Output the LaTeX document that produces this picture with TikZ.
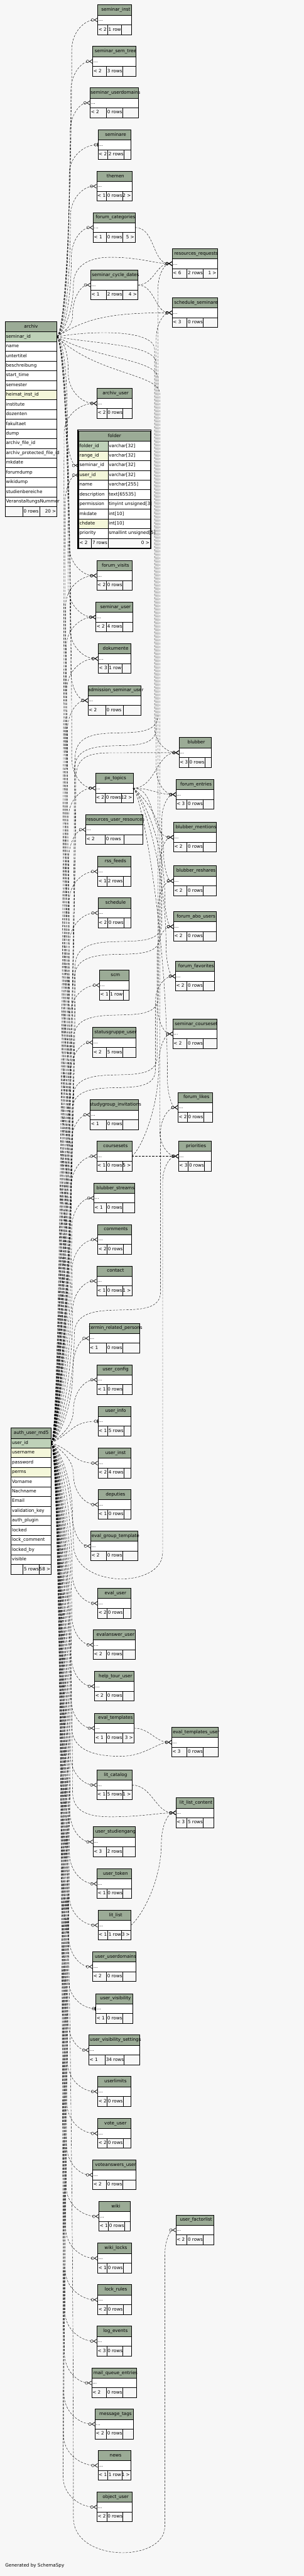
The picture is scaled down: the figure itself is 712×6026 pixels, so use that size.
\documentclass[tikz,border=0pt]{standalone}
\usepackage{fontspec}
\setmainfont{DejaVu Sans}
\usetikzlibrary{arrows.meta,calc}

\definecolor{bgcol}{HTML}{F7F7F7}
\definecolor{hdrcol}{HTML}{9BAB96}
\definecolor{pkcol}{HTML}{BED1B8}
\definecolor{idxcol}{HTML}{F4F7DA}

\newcommand{\tfont}{\fontsize{10.6}{12}\selectfont}

%% one cell: [style]{name}{at}{width}{l/c/r}{text}
\newcommand{\dbcell}[6][tbody]{%
  \pgfmathsetmacro\cellw{#4-4}%
  \node[#1,anchor=north west] (#2) at (#3) {\makebox[\cellw pt][#5]{#6}};}

%% collapsed table: {name}{left}{right}{top}{split1}{split2}{title}{parents}{rows}
\newcommand{\dbtable}[9]{%
  \dbcell[thead]{#1}{#2,-#4}{#3-#2}{c}{\hspace*{6pt}#7}%
  \dbcell{#1-b}{#1.south west}{#3-#2}{l}{...}%
  \dbcell[tfoot]{#1-f1}{#1-b.south west}{#5-#2}{l}{#8}%
  \dbcell[tfoot]{#1-f2}{#1-f1.north east}{#6-#5}{l}{#9}%
  \dbcell[tfoot]{#1-f3}{#1-f2.north east}{#3-#6}{r}{}}

%% relationship through the left bundle: [style]{bundle x}{parent}{child}
\newcommand{\fklink}[4][fkmany]{%
  \draw[#1] let \p1=(#3), \p2=(#4),
      \n1={ifthenelse(\y2>\y1,1,-1)}, \n2={max(abs((\y2)-(\y1))-70,0)} in
    (\p1) .. controls ({\x1+20},{\y1+(\n1)*14}) and (#2,{\y2-(\n1)*(70+0.5*\n2)})
      .. (#2,{\y2-(\n1)*70})
      .. controls (#2,{\y2-(\n1)*28}) and ({0.5*#2+0.5*\x2},\y2) .. (\p2);}

%% relationship crossing to the right bundle: [style]{left x}{cross y}{right x}{parent}{child}
\newcommand{\fkcross}[6][fkmany]{%
  \draw[#1] let \p1=(#5), \p2=(#6), \n3={-#3},
      \n1={ifthenelse(\n3>\y1,1,-1)}, \n2={ifthenelse(\y2>\n3,1,-1)},
      \n4={max(abs((\n3)-(\y1))-60,0)} in
    (\p1) .. controls ({\x1+20},{\y1+(\n1)*14}) and (#2,{\n3-(\n1)*(60+0.5*\n4)})
      .. (#2,{\n3-(\n1)*60})
      .. controls (#2,{\n3+(\n1)*45}) and (#4,{\n3-(\n2)*45}) .. (#4,{\n3+(\n2)*40})
      -- (#4,{\y2-(\n2)*60})
      .. controls (#4,{\y2-(\n2)*24}) and ({0.5*#4+0.5*\x2},\y2) .. (\p2);}

%% relationship running right, then down the right bundle: [style]{right x}{run y}{parent}{child}
\newcommand{\fkright}[5][fkmany]{%
  \draw[#1] let \p1=(#4), \p2=(#5), \n3={-#3} in
    (\p1) .. controls ({\x1+90},\n3) and (#2,\n3) .. (#2,{\n3-45})
      -- (#2,{\y2+60})
      .. controls (#2,{\y2+24}) and ({0.5*#2+0.5*\x2},\y2) .. (\p2);}

\begin{document}
\begin{tikzpicture}[x=1pt,y=1pt,
  tcell/.style={draw=black,line width=0.8pt,inner xsep=2pt,inner ysep=0pt,outer sep=0pt,
                text height=8pt,text depth=2.5pt,font=\tfont},
  thead/.style={tcell,fill=hdrcol,minimum height=24pt},
  tbody/.style={tcell,fill=white,minimum height=22.7pt},
  tfoot/.style={tcell,fill=bgcol,minimum height=23pt},
  tnum/.style={anchor=east,inner xsep=2pt,inner ysep=0pt,text height=8pt,
               text depth=2.5pt,font=\tfont},
  fkmany/.style={line width=0.6pt,dash pattern=on 5pt off 3pt,
    -{Circle[open,length=7pt,width=7pt]Straight Barb[reversed,length=7pt,width=9pt,line width=1pt]}},
  fkone/.style={line width=0.6pt,dash pattern=on 5pt off 3pt,
    -{Circle[open,length=7pt,width=7pt]Bar[width=9pt,line width=2pt]}}
]
\path[use as bounding box] (0,0) rectangle (712,-6026);
\fill[bgcol] (0,0) rectangle (712,-6026);

%% archiv
\dbcell[thead]{archiv}{12,-752.3}{121.3}{c}{archiv}
\dbcell[tbody,fill=pkcol]{archiv-r1}{archiv.south west}{121.3}{l}{seminar\_id}
\dbcell{archiv-r2}{archiv-r1.south west}{121.3}{l}{name}
\dbcell{archiv-r3}{archiv-r2.south west}{121.3}{l}{untertitel}
\dbcell{archiv-r4}{archiv-r3.south west}{121.3}{l}{beschreibung}
\dbcell{archiv-r5}{archiv-r4.south west}{121.3}{l}{start\_time}
\dbcell{archiv-r6}{archiv-r5.south west}{121.3}{l}{semester}
\dbcell[tbody,fill=idxcol]{archiv-r7}{archiv-r6.south west}{121.3}{l}{heimat\_inst\_id}
\dbcell{archiv-r8}{archiv-r7.south west}{121.3}{l}{institute}
\dbcell{archiv-r9}{archiv-r8.south west}{121.3}{l}{dozenten}
\dbcell{archiv-r10}{archiv-r9.south west}{121.3}{l}{fakultaet}
\dbcell{archiv-r11}{archiv-r10.south west}{121.3}{l}{dump}
\dbcell{archiv-r12}{archiv-r11.south west}{121.3}{l}{archiv\_file\_id}
\dbcell{archiv-r13}{archiv-r12.south west}{121.3}{l}{archiv\_protected\_file\_id}
\dbcell{archiv-r14}{archiv-r13.south west}{121.3}{l}{mkdate}
\dbcell{archiv-r15}{archiv-r14.south west}{121.3}{l}{forumdump}
\dbcell{archiv-r16}{archiv-r15.south west}{121.3}{l}{wikidump}
\dbcell{archiv-r17}{archiv-r16.south west}{121.3}{l}{studienbereiche}
\dbcell{archiv-r18}{archiv-r17.south west}{121.3}{l}{VeranstaltungsNummer}
\dbcell[tfoot]{archiv-f1}{archiv-r18.south west}{41.3}{l}{}
\dbcell[tfoot]{archiv-f2}{archiv-f1.north east}{40.4}{l}{0 rows}
\dbcell[tfoot]{archiv-f3}{archiv-f2.north east}{39.6}{r}{20 >}

%% folder
\draw[line width=1.8pt] (182.4,-1005.9) rectangle (353.4,-1283.3);
\dbcell[thead]{folder}{184.3,-1008}{167.7}{c}{folder}
\dbcell[tbody,fill=pkcol]{folder-r1}{folder.south west}{68.7}{l}{folder\_id}
\dbcell[tbody,fill=idxcol]{folder-r2}{folder-r1.south west}{68.7}{l}{range\_id}
\dbcell{folder-r3}{folder-r2.south west}{68.7}{l}{seminar\_id}
\dbcell[tbody,fill=idxcol]{folder-r4}{folder-r3.south west}{68.7}{l}{user\_id}
\dbcell{folder-r5}{folder-r4.south west}{68.7}{l}{name}
\dbcell{folder-r6}{folder-r5.south west}{68.7}{l}{description}
\dbcell{folder-r7}{folder-r6.south west}{68.7}{l}{permission}
\dbcell{folder-r8}{folder-r7.south west}{68.7}{l}{mkdate}
\dbcell[tbody,fill=idxcol]{folder-r9}{folder-r8.south west}{68.7}{l}{chdate}
\dbcell{folder-r10}{folder-r9.south west}{68.7}{l}{priority}
\dbcell{folder-t1}{folder-r1.north east}{99}{l}{varchar[32]}
\dbcell{folder-t2}{folder-r2.north east}{99}{l}{varchar[32]}
\dbcell{folder-t3}{folder-r3.north east}{99}{l}{varchar[32]}
\dbcell{folder-t4}{folder-r4.north east}{99}{l}{varchar[32]}
\dbcell{folder-t5}{folder-r5.north east}{99}{l}{varchar[255]}
\dbcell{folder-t6}{folder-r6.north east}{99}{l}{text[65535]}
\dbcell{folder-t7}{folder-r7.north east}{99}{l}{tinyint unsigned[3]}
\dbcell{folder-t8}{folder-r8.north east}{99}{l}{int[10]}
\dbcell{folder-t9}{folder-r9.north east}{99}{l}{int[10]}
\dbcell{folder-t10}{folder-r10.north east}{99}{l}{smallint unsigned[5]}
\dbcell[tfoot]{folder-f1}{folder-r10.south west}{30}{l}{< 2}
\dbcell[tfoot]{folder-f2}{folder-f1.north east}{38.7}{l}{7 rows}
\dbcell[tfoot]{folder-f3}{folder-f2.north east}{99}{r}{0 >}

%% auth_user_md5
\dbcell[thead]{auth}{26,-3340.3}{94}{c}{auth\_user\_md5}
\dbcell[tbody,fill=pkcol]{auth-r1}{auth.south west}{94}{l}{user\_id}
\dbcell[tbody,fill=idxcol]{auth-r2}{auth-r1.south west}{94}{l}{username}
\dbcell{auth-r3}{auth-r2.south west}{94}{l}{password}
\dbcell[tbody,fill=idxcol]{auth-r4}{auth-r3.south west}{94}{l}{perms}
\dbcell{auth-r5}{auth-r4.south west}{94}{l}{Vorname}
\dbcell{auth-r6}{auth-r5.south west}{94}{l}{Nachname}
\dbcell{auth-r7}{auth-r6.south west}{94}{l}{Email}
\dbcell{auth-r8}{auth-r7.south west}{94}{l}{validation\_key}
\dbcell{auth-r9}{auth-r8.south west}{94}{l}{auth\_plugin}
\dbcell{auth-r10}{auth-r9.south west}{94}{l}{locked}
\dbcell{auth-r11}{auth-r10.south west}{94}{l}{lock\_comment}
\dbcell{auth-r12}{auth-r11.south west}{94}{l}{locked\_by}
\dbcell{auth-r13}{auth-r12.south west}{94}{l}{visible}
\dbcell[tfoot]{auth-f1}{auth-r13.south west}{28}{l}{}
\dbcell[tfoot]{auth-f2}{auth-f1.north east}{38}{l}{5 rows}
\dbcell[tfoot]{auth-f3}{auth-f2.north east}{28}{r}{58 >}

%% collapsed tables, middle column and right column
\dbtable{seminst}{228.7}{308}{11.3}{252}{285}{seminar\_inst}{< 2}{1 row}
\dbtable{semsemtree}{217}{318.3}{108.3}{249.3}{287.3}{seminar\_sem\_tree}{< 2}{3 rows}
\dbtable{semuserdom}{211}{324}{205.3}{249.3}{287.3}{seminar\_userdomains}{< 2}{0 rows}
\dbtable{seminare}{229.3}{306.3}{303.3}{252.3}{290.3}{seminare}{< 2}{2 rows}
\dbtable{themen}{226.3}{308.7}{400.3}{249.3}{287.3}{themen}{< 1}{0 rows}
\dbtable{forumcat}{218.3}{316.7}{497}{249.3}{287.3}{forum\_categories}{< 1}{0 rows}
\dbtable{resreq}{403.3}{509}{581.3}{438}{476}{resources\_requests}{< 6}{2 rows}
\dbtable{semcycle}{212.3}{322.7}{631.3}{249.3}{287.3}{seminar\_cycle\_dates}{< 1}{2 rows}
\dbtable{schedsem}{403.3}{509}{696.3}{438}{476}{schedule\_seminare}{< 3}{0 rows}
\dbtable{archivuser}{227}{308.7}{908.3}{250}{288}{archiv\_user}{< 2}{0 rows}
\dbtable{forumvisits}{226.3}{308.7}{1311.3}{249.3}{287.3}{forum\_visits}{< 2}{0 rows}
\dbtable{semuser}{224.3}{311}{1408.3}{249.3}{287.3}{seminar\_user}{< 2}{4 rows}
\dbtable{dokumente}{230}{305.7}{1505.3}{253}{286}{dokumente}{< 3}{1 row}
\dbtable{admsemuser}{206}{330}{1603.3}{247.7}{288.7}{admission\_seminar\_user}{< 2}{0 rows}
\dbtable{blubber}{419.3}{494.3}{1725.3}{441.7}{479.7}{blubber}{< 3}{0 rows}
\dbtable{pxtopics}{223.3}{311.7}{1808.3}{246.3}{284.3}{px\_topics}{< 2}{0 rows}
\dbtable{forumentries}{412}{500.3}{1823.3}{438}{476}{forum\_entries}{< 3}{0 rows}
\dbtable{resuserres}{200.7}{334.3}{1905.3}{246.3}{290.3}{resources\_user\_resources}{< 2}{0 rows}
\dbtable{blubbermen}{406.3}{506}{1923.3}{438}{476}{blubber\_mentions}{< 2}{0 rows}
\dbtable{rssfeeds}{228.7}{306.3}{2003.3}{250.7}{289}{rss\_feeds}{< 1}{2 rows}
\dbtable{blubberresh}{406.3}{506}{2025.3}{438}{476}{blubber\_reshares}{< 2}{0 rows}
\dbtable{schedule}{229.3}{306.3}{2100.3}{252.3}{290.3}{schedule}{< 2}{0 rows}
\dbtable{forumabo}{406.3}{506}{2132.3}{438}{476}{forum\_abo\_users}{< 2}{0 rows}
\dbtable{forumfav}{410.7}{502.3}{2248.3}{438}{476}{forum\_favorites}{< 2}{0 rows}
\dbtable{scm}{233}{302}{2269.3}{256}{289}{scm}{< 1}{1 row}
\dbtable{semcourseset}{404.7}{508.3}{2383.3}{438}{476}{seminar\_courseset}{< 2}{0 rows}
\dbtable{statusgruppe}{217}{318.3}{2403.3}{249.3}{287.3}{statusgruppe\_user}{< 2}{5 rows}
\dbtable{forumlikes}{416.7}{497.3}{2555.3}{438.7}{476.7}{forum\_likes}{< 2}{0 rows}
\dbtable{studyinv}{211}{324}{2572.3}{249.3}{287.3}{studygroup\_invitations}{< 1}{0 rows}
\dbtable{coursesets}{226.3}{308.7}{2669.3}{249.3}{287.3}{coursesets}{< 1}{0 rows}
\dbtable{priorities}{418}{494.3}{2669.3}{441}{479}{priorities}{< 3}{0 rows}
\dbtable{blubberstreams}{219.7}{315.3}{2767.3}{249.3}{287.3}{blubber\_streams}{< 1}{0 rows}
\dbtable{comments}{228.7}{308}{2864.3}{250.7}{288.7}{comments}{< 2}{0 rows}
\dbtable{contact}{226.3}{308.7}{2961.3}{249.3}{287.3}{contact}{< 1}{0 rows}
\dbtable{terminrel}{208.7}{327}{3095.3}{249.3}{288}{termin\_related\_persons}{< 1}{0 rows}
\dbtable{userconfig}{227}{308.7}{3192.3}{250}{288}{user\_config}{< 1}{0 rows}
\dbtable{userinfo}{229.3}{306.3}{3289.3}{252.3}{290.3}{user\_info}{< 1}{5 rows}
\dbtable{userinst}{229.3}{306.3}{3387.3}{252.3}{290.3}{user\_inst}{< 2}{4 rows}
\dbtable{deputies}{229.3}{305.7}{3484.3}{252.3}{290.3}{deputies}{< 1}{0 rows}
\dbtable{evalgrouptpl}{212.3}{322.7}{3581.3}{249.3}{287.3}{eval\_group\_template}{< 2}{0 rows}
\dbtable{evaluser}{228.7}{306.3}{3715.3}{250.7}{288.7}{eval\_user}{< 2}{0 rows}
\dbtable{evalanswer}{218.3}{316.7}{3812.3}{249.3}{287.3}{evalanswer\_user}{< 2}{0 rows}
\dbtable{helptour}{221.3}{313.7}{3909.3}{249.3}{287.3}{help\_tour\_user}{< 2}{0 rows}
\dbtable{evaltpl}{221.3}{313.7}{4007.3}{249.3}{287.3}{eval\_templates}{< 1}{0 rows}
\dbtable{evaltpluser}{402}{511.3}{4040.3}{438}{476}{eval\_templates\_user}{< 3}{0 rows}
\dbtable{litcatalog}{226.3}{308.7}{4140.3}{249.3}{287.3}{lit\_catalog}{< 1}{5 rows}
\dbtable{litlistcontent}{412}{500.3}{4205.3}{438}{476}{lit\_list\_content}{< 3}{5 rows}
\dbtable{userstudiengang}{217.7}{317.3}{4273.3}{249.3}{287.3}{user\_studiengang}{< 3}{2 rows}
\dbtable{usertoken}{227}{308}{4371.3}{250}{288}{user\_token}{< 1}{0 rows}
\dbtable{litlist}{229.3}{306.3}{4468.3}{252.3}{285}{lit\_list}{< 1}{1 row}
\dbtable{useruserdom}{217}{318.3}{4565.3}{249.3}{287.3}{user\_userdomains}{< 2}{0 rows}
\dbtable{uservis}{224.3}{311}{4663.3}{249.3}{287.3}{user\_visibility}{< 1}{0 rows}
\dbtable{uservisset}{208}{327}{4760.3}{246.3}{290.3}{user\_visibility\_settings}{< 1}{34 rows}
\dbtable{userlimits}{228.7}{306.3}{4857.3}{250.7}{288.7}{userlimits}{< 2}{0 rows}
\dbtable{voteuser}{228.7}{306.3}{4955.3}{250.7}{288.7}{vote\_user}{< 2}{0 rows}
\dbtable{voteanswers}{217}{318.3}{5052.3}{249.3}{287.3}{voteanswers\_user}{< 2}{0 rows}
\dbtable{wiki}{231.7}{305}{5149.3}{253.7}{291.7}{wiki}{< 1}{0 rows}
\dbtable{userfactor}{412}{500.3}{5181.3}{438}{476}{user\_factorlist}{< 2}{0 rows}
\dbtable{wikilocks}{228.7}{308}{5247.3}{250.7}{288.7}{wiki\_locks}{< 1}{0 rows}
\dbtable{lockrules}{228.7}{308}{5344.3}{250.7}{288.7}{lock\_rules}{< 2}{0 rows}
\dbtable{logevents}{227}{308}{5441.3}{250}{288}{log\_events}{< 3}{0 rows}
\dbtable{mailqueue}{214.7}{320.3}{5539}{249.3}{287.3}{mail\_queue\_entries}{< 2}{0 rows}
\dbtable{msgtags}{222.7}{312.3}{5635.3}{249.3}{287.3}{message\_tags}{< 2}{0 rows}
\dbtable{news}{229.3}{306.3}{5732}{252.3}{285.3}{news}{< 1}{1 row}
\dbtable{objectuser}{227}{308.7}{5829.3}{250}{288}{object\_user}{< 2}{0 rows}

%% child counts
\node[tnum] (themen-k) at (themen-f3.east) {2 >};
\node[tnum] (forumcat-k) at (forumcat-f3.east) {5 >};
\node[tnum] (resreq-k) at (resreq-f3.east) {1 >};
\node[tnum] (semcycle-k) at (semcycle-f3.east) {4 >};
\node[tnum] (pxtopics-k) at (pxtopics-f3.east) {12 >};
\node[tnum] (coursesets-k) at (coursesets-f3.east) {5 >};
\node[tnum] (contact-k) at (contact-f3.east) {1 >};
\node[tnum] (evaltpl-k) at (evaltpl-f3.east) {3 >};
\node[tnum] (litcatalog-k) at (litcatalog-f3.east) {1 >};
\node[tnum] (litlist-k) at (litlist-f3.east) {3 >};
\node[tnum] (news-k) at (news-f3.east) {1 >};

\node[anchor=west,font=\tfont,inner sep=0pt] (credit) at (12,-6001) {Generated by SchemaSpy};

%% archiv.seminar_id, upwards
\fklink{168}{archiv-r1.east}{seminst-b.west}
\fklink{166}{archiv-r1.east}{semsemtree-b.west}
\fklink{164}{archiv-r1.east}{semuserdom-b.west}
\fklink[fkone]{162}{archiv-r1.east}{seminare-b.west}
\fklink{165}{archiv-r1.east}{themen-b.west}
\fklink{167}{archiv-r1.east}{forumcat-b.west}
\fklink{170}{archiv-r1.east}{semcycle-b.west}
\draw[fkmany] (archiv-r1.east) .. controls +(20,14) and (172,-720) .. (172,-665)
  .. controls (172,-628) and (200,-604) .. (250,-602)
  .. controls (320,-600) and (365,-617) .. (resreq-b.west);
\draw[fkmany] (archiv-r1.east) .. controls +(70,45) and +(-140,0) .. (schedsem-b.west);

%% archiv.seminar_id, downwards
\fklink{160}{archiv-r1.east}{archivuser-b.west}
\fklink{158}{archiv-r1.east}{folder-r3.west}
\fklink{162}{archiv-r1.east}{forumvisits-b.west}
\fklink{160}{archiv-r1.east}{semuser-b.west}
\fklink{164}{archiv-r1.east}{dokumente-b.west}
\fklink{166}{archiv-r1.east}{admsemuser-b.west}
\fklink{168}{archiv-r1.east}{pxtopics-b.west}

%% archiv.seminar_id, down the right bundle
\fkright{362}{772}{archiv-r1.east}{blubber-b.west}
\fkright{366}{805}{archiv-r1.east}{forumentries-b.west}
\fkright{370}{840}{archiv-r1.east}{semcourseset-b.west}
\fkright{374}{875}{archiv-r1.east}{priorities-b.west}

%% auth_user_md5.user_id, upwards
\fklink{150}{auth-r1.east}{archivuser-b.west}
\fklink{152}{auth-r1.east}{folder-r4.west}
\fklink{154}{auth-r1.east}{forumvisits-b.west}
\fklink{155}{auth-r1.east}{semuser-b.west}
\fklink{157}{auth-r1.east}{dokumente-b.west}
\fklink{158}{auth-r1.east}{admsemuser-b.west}
\fklink{160}{auth-r1.east}{pxtopics-b.west}
\fklink{161}{auth-r1.east}{resuserres-b.west}
\fklink{162}{auth-r1.east}{rssfeeds-b.west}
\fklink{163}{auth-r1.east}{schedule-b.west}
\fklink{164}{auth-r1.east}{scm-b.west}
\fklink{165}{auth-r1.east}{statusgruppe-b.west}
\fklink{166}{auth-r1.east}{studyinv-b.west}
\fklink{167}{auth-r1.east}{coursesets-b.west}
\fklink{168}{auth-r1.east}{blubberstreams-b.west}
\fklink{169}{auth-r1.east}{comments-b.west}
\fklink{170}{auth-r1.east}{contact-b.west}
\fklink{171}{auth-r1.east}{terminrel-b.west}
\fklink{172}{auth-r1.east}{userconfig-b.west}
\draw[fkone] (auth-r1.east) .. controls +(50,25) and +(-60,0) .. (userinfo-b.west);
\draw[fkmany] (auth-r1.east) .. controls +(50,-15) and +(-60,0) .. (userinst-b.west);
\draw[fkmany] (auth-r1.east) .. controls +(20,14) and (178,-2200) .. (178,-1820)
  .. controls (178,-1772) and (205,-1761) .. (260,-1761) -- (blubber-b.west);

%% auth_user_md5.user_id, downwards
\fklink{172}{auth-r1.east}{deputies-b.west}
\fklink{170}{auth-r1.east}{evalgrouptpl-b.west}
\fklink{169}{auth-r1.east}{evaluser-b.west}
\fklink{168}{auth-r1.east}{evalanswer-b.west}
\fklink{167}{auth-r1.east}{helptour-b.west}
\fklink{166}{auth-r1.east}{evaltpl-b.west}
\fklink{165}{auth-r1.east}{litcatalog-b.west}
\fklink{164}{auth-r1.east}{userstudiengang-b.west}
\fklink{163}{auth-r1.east}{usertoken-b.west}
\fklink{162}{auth-r1.east}{litlist-b.west}
\fklink{161}{auth-r1.east}{useruserdom-b.west}
\fklink[fkone]{160}{auth-r1.east}{uservis-b.west}
\fklink{159}{auth-r1.east}{uservisset-b.west}
\fklink{158}{auth-r1.east}{userlimits-b.west}
\fklink{157}{auth-r1.east}{voteuser-b.west}
\fklink{156}{auth-r1.east}{voteanswers-b.west}
\fklink{155}{auth-r1.east}{wiki-b.west}
\fklink{154}{auth-r1.east}{wikilocks-b.west}
\fklink{153}{auth-r1.east}{lockrules-b.west}
\fklink{152}{auth-r1.east}{logevents-b.west}
\fklink{151}{auth-r1.east}{mailqueue-b.west}
\fklink{150}{auth-r1.east}{msgtags-b.west}
\fklink{149}{auth-r1.east}{news-b.west}
\fklink{148}{auth-r1.east}{objectuser-b.west}

%% auth_user_md5.user_id, over to the right column
\fkcross{176}{1712}{370}{auth-r1.east}{resreq-b.west}
\fkcross{174}{1742}{366}{auth-r1.east}{schedsem-b.west}
\fkcross{176}{2200}{379}{auth-r1.east}{forumentries-b.west}
\fkcross{174}{2230}{375}{auth-r1.east}{blubbermen-b.west}
\fkcross{172}{2372}{371}{auth-r1.east}{blubberresh-b.west}
\fkcross{170}{2512}{368}{auth-r1.east}{forumabo-b.west}
\fkcross{168}{2542}{364}{auth-r1.east}{forumfav-b.west}
\fkcross{174}{3062}{376}{auth-r1.east}{forumlikes-b.west}
\fkcross{172}{3672}{381}{auth-r1.east}{priorities-b.west}
\fkcross{172}{5950}{386}{auth-r1.east}{userfactor-b.west}
\draw[fkmany] (auth-r1.east) .. controls +(20,-14) and (168,-3700) .. (168,-4040)
  .. controls (168,-4098) and (230,-4110) .. (290,-4108)
  .. controls (340,-4106) and (370,-4076) .. (evaltpluser-b.west);
\draw[fkmany] (auth-r1.east) .. controls +(20,-14) and (170,-3800) .. (170,-4190)
  .. controls (170,-4235) and (200,-4250) .. (260,-4250)
  .. controls (330,-4250) and (370,-4241) .. (litlistcontent-b.west);

%% table to table
\draw[fkmany] (forumcat-b.east) to[out=0,in=180] (resreq-b.west);
\draw[fkmany] (semcycle-b.east) to[out=0,in=180] (resreq-b.west);
\draw[fkmany] (semcycle-b.east) to[out=0,in=180] (schedsem-b.west);
\draw[fkmany] (pxtopics-b.east) to[out=0,in=180] (blubber-b.west);
\draw[fkmany] (pxtopics-b.east) to[out=0,in=180] (forumentries-b.west);
\draw[fkmany] (pxtopics-b.east) to[out=0,in=180] (blubbermen-b.west);
\fklink{383}{pxtopics-b.east}{blubberresh-b.west}
\fklink{386}{pxtopics-b.east}{forumabo-b.west}
\fklink{389}{pxtopics-b.east}{forumfav-b.west}
\fklink{392}{pxtopics-b.east}{forumlikes-b.west}
\fklink{372}{coursesets-b.east}{semcourseset-b.west}
\draw[fkmany] (coursesets-b.east) -- (priorities-b.west);
\draw[fkmany] (evaltpl-b.east) to[out=0,in=180] (evaltpluser-b.west);
\draw[fkmany] (litcatalog-b.east) to[out=0,in=180] (litlistcontent-b.west);
\fklink{378}{litlist-b.east}{litlistcontent-b.west}
\end{tikzpicture}
\end{document}
